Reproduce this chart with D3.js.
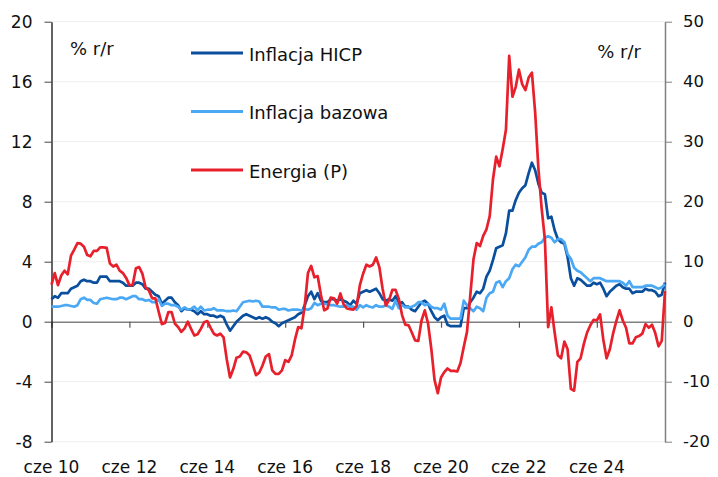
<!DOCTYPE html>
<html>
<head>
<meta charset="utf-8">
<script src="https://cdn.jsdelivr.net/npm/d3@7"></script>
<style>
  html, body { margin: 0; padding: 0; background: #ffffff; }
  svg { display: block; font-family: "DejaVu Sans", "Open Sans", sans-serif; }
</style>
</head>
<body>
<svg id="chart" width="718" height="477"></svg>
<script>
// ---------------- DATA (monthly, cze 2010 .. mar 2026) ----------------
const xTickLabels = ["cze 10", "cze 12", "cze 14", "cze 16", "cze 18", "cze 20", "cze 22", "cze 24"];
const leftTicks = [-8, -4, 0, 4, 8, 12, 16, 20];
const rightTicks = [-20, -10, 0, 10, 20, 30, 40, 50];
const seriesNames = ["Inflacja HICP", "Inflacja bazowa", "Energia (P)"];

const hicp = [
  1.5, 1.7, 1.6, 1.9, 1.9, 1.9, 2.2,
  2.3, 2.4, 2.7, 2.8, 2.7, 2.7, 2.6, 2.6, 3.0, 3.0, 3.0, 2.7,
  2.7, 2.7, 2.7, 2.6, 2.4, 2.4, 2.4, 2.6, 2.6, 2.5, 2.2, 2.2,
  2.0, 1.8, 1.7, 1.2, 1.4, 1.6, 1.6, 1.3, 1.1, 0.7, 0.9, 0.8,
  0.8, 0.7, 0.5, 0.7, 0.5, 0.5, 0.4, 0.4, 0.3, 0.4, 0.3, -0.2,
  -0.6, -0.3, 0.0, 0.2, 0.4, 0.5, 0.4, 0.3, 0.2, 0.3, 0.2, 0.3,
  0.2, 0.0, -0.1, -0.3, -0.1, 0.0, 0.1, 0.2, 0.3, 0.5, 0.6, 1.1,
  1.7, 2.0, 1.5, 1.9, 1.4, 1.3, 1.3, 1.5, 1.5, 1.4, 1.5, 1.4,
  1.3, 1.1, 1.4, 1.2, 1.9, 2.0, 2.1, 2.0, 2.1, 2.2, 1.9, 1.5,
  1.4, 1.5, 1.4, 1.7, 1.2, 1.3, 1.0, 1.0, 0.8, 0.7, 1.0, 1.3,
  1.4, 1.2, 0.7, 0.3, 0.1, 0.3, 0.4, -0.2, -0.3, -0.3, -0.3, -0.3,
  0.9, 0.9, 1.3, 1.6, 2.0, 1.9, 2.2, 3.0, 3.4, 4.1, 4.9, 5.0,
  5.1, 5.9, 7.4, 7.4, 8.1, 8.6, 8.9, 9.1, 9.9, 10.6, 10.1, 9.2,
  8.6, 8.5, 6.9, 7.0, 6.1, 5.5, 5.3, 5.2, 4.3, 2.9, 2.4, 2.9,
  2.8, 2.6, 2.4, 2.4, 2.6, 2.5, 2.6, 2.2, 1.7, 2.0, 2.2, 2.4,
  2.5, 2.3, 2.2, 2.2, 1.9, 2.0, 2.0, 2.0, 2.2, 2.1, 2.1, 2.0,
  1.7, 1.8, 2.6
];

const bazowa = [
  1.0, 1.0, 1.0, 1.05, 1.1, 1.1, 1.05,
  1.0, 1.1, 1.5, 1.6, 1.45, 1.45, 1.25, 1.2, 1.5, 1.55, 1.6, 1.55,
  1.5, 1.5, 1.6, 1.6, 1.5, 1.6, 1.7, 1.7, 1.5, 1.5, 1.4, 1.45,
  1.3, 1.3, 1.5, 1.05, 1.2, 1.2, 1.1, 1.1, 1.0, 0.8, 0.95, 0.8,
  0.85, 1.0, 0.75, 1.0, 0.75, 0.8, 0.8, 0.9, 0.75, 0.75, 0.75, 0.7,
  0.7, 0.75, 0.7, 1.0, 1.3, 1.35, 1.4, 1.35, 1.4, 1.35, 1.0, 1.0,
  1.0, 0.95, 0.95, 0.8, 0.85, 0.85, 0.75, 0.8, 0.8, 0.8, 0.75, 0.85,
  0.8, 0.9, 1.25, 1.1, 1.2, 1.2, 1.15, 1.1, 1.1, 1.05, 1.0, 1.0,
  1.1, 1.0, 1.0, 0.8, 1.1, 0.95, 1.1, 1.0, 0.95, 1.1, 1.0, 1.0,
  1.1, 1.0, 0.85, 1.4, 0.9, 1.1, 0.95, 0.95, 1.0, 1.1, 1.3, 1.3,
  1.1, 1.2, 1.0, 0.9, 0.9, 0.8, 1.2, 0.4, 0.2, 0.2, 0.2, 0.2,
  1.4, 1.1, 0.9, 0.7, 1.0, 0.9, 0.7, 1.6, 1.9, 2.0, 2.6, 2.7,
  2.3, 2.7, 2.9, 3.5, 3.8, 3.7, 4.0, 4.3, 4.8, 5.0, 5.0, 5.2,
  5.3, 5.6, 5.7, 5.6, 5.3, 5.5, 5.5, 5.3, 4.5, 4.2, 3.6, 3.4,
  3.3, 3.1, 2.9, 2.7, 2.9, 2.9, 2.9, 2.8, 2.7, 2.7, 2.7, 2.7,
  2.7, 2.6, 2.4, 2.7, 2.3, 2.3, 2.3, 2.3, 2.4, 2.4, 2.4, 2.3,
  2.2, 2.3, 2.5
];

const energia = [
  6.2, 8.1, 6.1, 7.7, 8.5, 7.9, 11.0,
  12.0, 13.1, 13.0, 12.5, 11.1, 10.9, 11.8, 11.8, 12.4, 12.4, 12.3, 9.7,
  9.2, 9.5, 8.5, 8.1, 7.3, 6.1, 6.1, 8.9, 9.1, 8.0, 5.7, 5.2,
  3.9, 3.9, 1.7, -0.4, -0.2, 1.6, 1.6, -0.3, -0.9, -1.7, -1.1, 0.0,
  -1.2, -2.3, -2.1, -1.2, -0.1, 0.1, -1.0, -2.0, -2.3, -2.0, -2.6, -6.3,
  -9.3, -7.9, -6.0, -5.8, -5.0, -5.1, -5.6, -7.2, -8.9, -8.5, -7.3, -5.8,
  -5.4, -8.1, -8.7, -8.7, -8.1, -6.4, -6.7, -5.6, -3.0, -0.9, -1.1, 2.6,
  8.1, 9.3, 7.4, 7.6, 4.5, 1.9, 2.2, 4.0, 3.9, 3.0, 4.7, 2.9,
  2.2, 2.1, 2.0, 2.6, 6.1, 8.0, 9.5, 9.2, 9.5, 10.7, 9.1, 5.5,
  2.7, 3.6, 5.3, 5.3, 3.8, 1.1, -0.5, -0.6, -1.8, -3.1, -3.2, 0.2,
  1.9, -0.3, -4.5, -9.7, -11.9, -9.3, -8.4, -7.8, -8.2, -8.2, -8.3, -6.9,
  -4.2, -1.7, 4.3, 10.4, 13.1, 12.6, 14.3, 15.4, 17.6, 23.7, 27.5, 25.9,
  28.8, 32.0, 44.3, 37.5, 39.1, 42.0, 39.6, 38.6, 40.7, 41.5, 34.9, 25.5,
  18.9, 13.7, -0.9, 2.4, -1.8, -5.6, -6.1, -3.3, -4.6, -11.2, -11.5, -6.7,
  -6.1, -3.7, -1.8, -0.6, 0.3, 0.2, 1.2, -3.0, -6.1, -4.6, -2.0, 0.1,
  1.9, 0.2, -1.0, -3.6, -3.6, -2.6, -2.4, -2.0, -0.4, -1.0, -0.5, -1.9,
  -4.1, -3.2, 5.1
];

// ---------------- CHART ----------------
const svg = d3.select("#chart");
const plotLeft = 51.5, plotRight = 665, plotTop = 21.7, plotBottom = 441.7;
const n = hicp.length;
const idx = d3.range(n);

const x = d3.scaleLinear().domain([0, n - 1]).range([plotLeft, plotRight]);
const yL = d3.scaleLinear().domain([-8, 20]).range([plotBottom, plotTop]);
const yR = d3.scaleLinear().domain([-20, 50]).range([plotBottom, plotTop]);

const fontSize = 17;
const fontFam = "'DejaVu Sans', 'Open Sans', sans-serif";
const plainFmt = d => String(d);

// grid lines
svg.append("g")
  .selectAll("line")
  .data(leftTicks.filter(d => d !== 0))
  .join("line")
  .attr("x1", plotLeft).attr("x2", plotRight)
  .attr("y1", d => yL(d)).attr("y2", d => yL(d))
  .attr("stroke", "#efefef").attr("stroke-width", 1);

// zero line with x ticks
const xTickIdx = xTickLabels.map((_, k) => k * 24);
const xAxis = d3.axisBottom(x)
  .tickValues(xTickIdx)
  .tickSize(6)
  .tickSizeOuter(0)
  .tickFormat(() => "");
const gx = svg.append("g")
  .attr("transform", `translate(0,${yL(0)})`)
  .call(xAxis);
gx.select(".domain").attr("stroke", "#808080").attr("stroke-width", 1.5);
gx.selectAll(".tick line").attr("stroke", "#555555").attr("stroke-width", 1.2);

// x tick labels along bottom
svg.append("g")
  .selectAll("text")
  .data(xTickLabels)
  .join("text")
  .attr("x", (d, k) => x(xTickIdx[k]))
  .attr("y", 473)
  .attr("text-anchor", "middle")
  .attr("font-size", fontSize)
  .attr("font-family", fontFam)
  .attr("fill", "#111")
  .text(d => d);

// left axis
const gl = svg.append("g")
  .attr("transform", `translate(${plotLeft},0)`)
  .call(d3.axisLeft(yL).tickValues(leftTicks).tickFormat(plainFmt).tickSize(7).tickPadding(12).tickSizeOuter(0));
gl.select(".domain").attr("stroke", "#111").attr("stroke-width", 1.3);
gl.selectAll(".tick line").attr("stroke", "#444");
gl.selectAll(".tick text").attr("font-size", fontSize).attr("fill", "#111")
  .attr("font-family", fontFam);

// right axis
const gr = svg.append("g")
  .attr("transform", `translate(${plotRight},0)`)
  .call(d3.axisRight(yR).tickValues(rightTicks).tickFormat(plainFmt).tickSize(7).tickPadding(11).tickSizeOuter(0));
gr.select(".domain").attr("stroke", "#808080").attr("stroke-width", 1.5);
gr.selectAll(".tick line").attr("stroke", "#808080");
gr.selectAll(".tick text").attr("font-size", 16.5).attr("fill", "#111")
  .attr("font-family", fontFam);

// lines
const colors = ["#0a4f9e", "#4aa8f5", "#e8202c"];
const series = [
  { vals: hicp, scale: yL, color: colors[0] },
  { vals: bazowa, scale: yL, color: colors[1] },
  { vals: energia, scale: yR, color: colors[2] }
];
series.forEach(s => {
  svg.append("path")
    .datum(idx)
    .attr("fill", "none")
    .attr("stroke", s.color)
    .attr("stroke-width", 2.7)
    .attr("stroke-linejoin", "round")
    .attr("d", d3.line().x(i => x(i)).y(i => s.scale(s.vals[i])));
});

// unit labels
svg.append("text").attr("x", 70).attr("y", 55).attr("font-size", 18)
  .attr("font-family", fontFam).attr("fill", "#111").text("% r/r");
svg.append("text").attr("x", 641).attr("y", 58).attr("text-anchor", "end").attr("font-size", 18)
  .attr("font-family", fontFam).attr("fill", "#111").text("% r/r");

// legend
const legendY = [53, 111.5, 170];
const lg = svg.append("g");
seriesNames.forEach((name, k) => {
  lg.append("line")
    .attr("x1", 191).attr("x2", 243)
    .attr("y1", legendY[k]).attr("y2", legendY[k])
    .attr("stroke", colors[k]).attr("stroke-width", 3);
  lg.append("text")
    .attr("x", 249).attr("y", legendY[k] + 7.5)
    .attr("font-size", 18).attr("font-family", fontFam).attr("fill", "#111")
    .text(name);
});
</script>
</body>
</html>
